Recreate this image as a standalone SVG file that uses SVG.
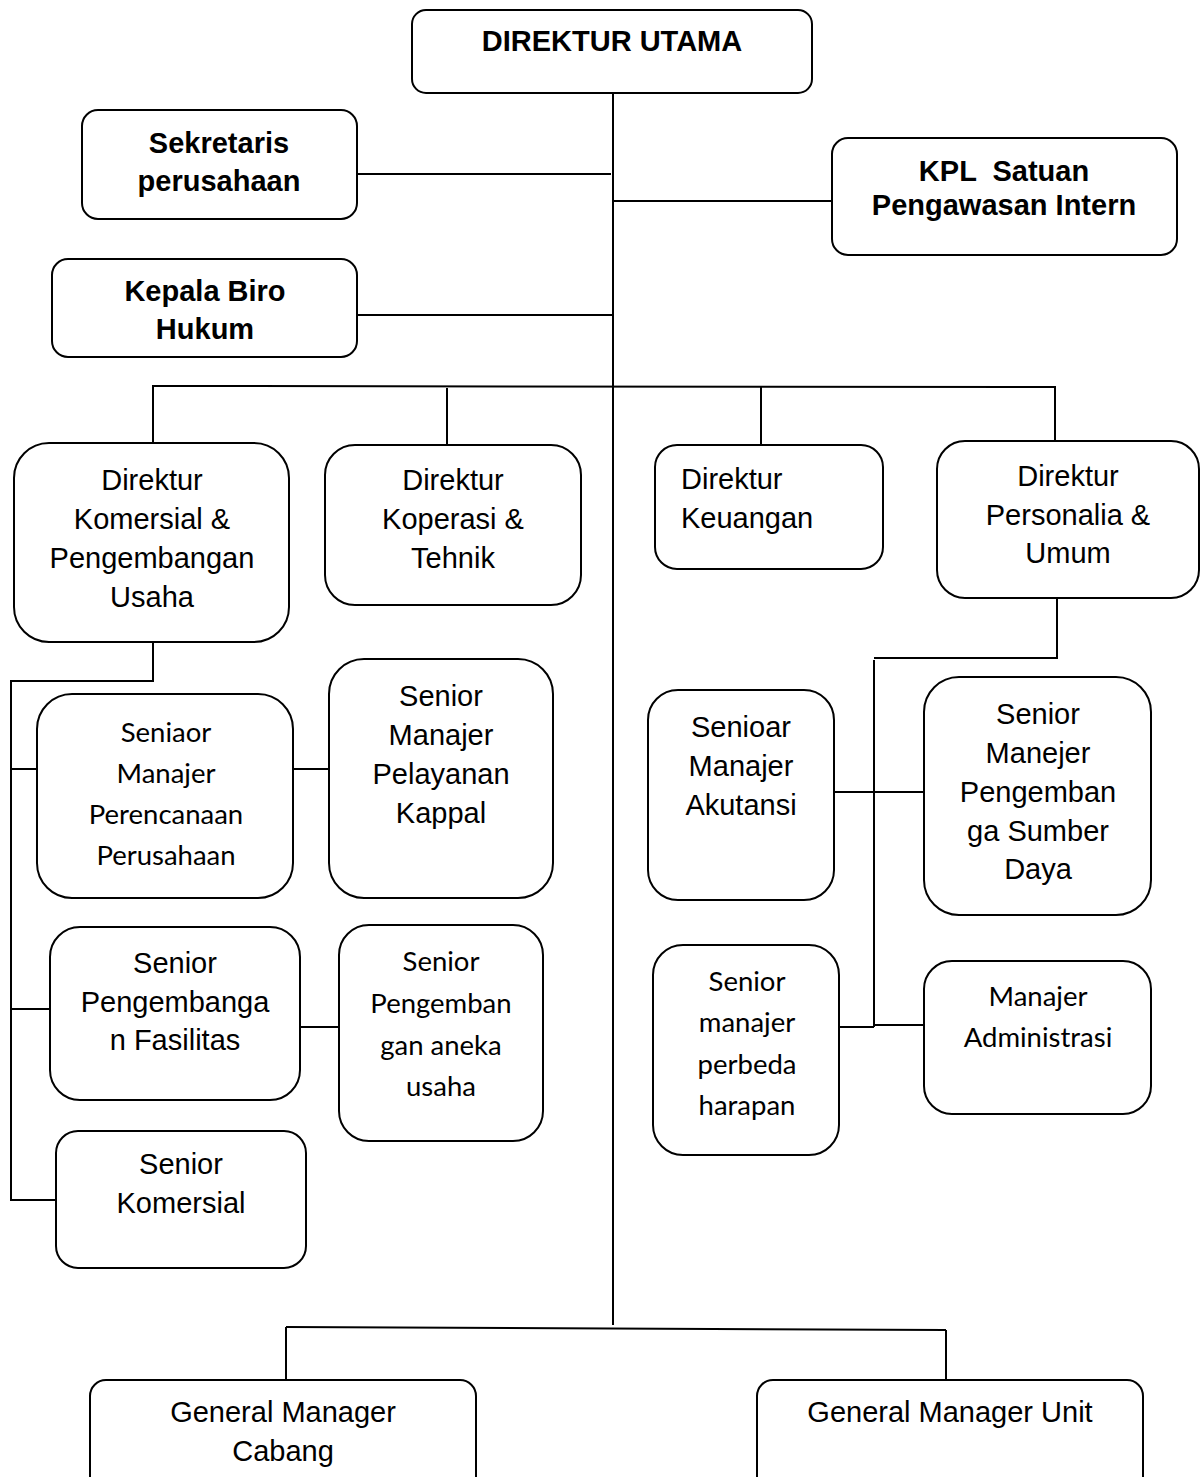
<svg xmlns="http://www.w3.org/2000/svg" width="1200" height="1477" viewBox="0 0 1200 1477">
<style>
.box{fill:#fff;stroke:#000;stroke-width:2}
.ln{stroke:#000;stroke-width:2;fill:none}
.b{font-family:"Liberation Sans",Arial,sans-serif;font-weight:bold;font-size:29px;text-anchor:middle;fill:#000}
.a{font-family:"Liberation Sans",Arial,sans-serif;font-size:29px;text-anchor:middle;fill:#000}
.c{font-family:Lato,"Open Sans",sans-serif;font-size:27.5px;text-anchor:middle;fill:#000}
.g{font-family:"Liberation Sans",Arial,sans-serif;font-size:29px;text-anchor:middle;fill:#000}
</style>
<rect width="1200" height="1477" fill="#fff"/>
<g id="connectors">
<line class="ln" x1="613" y1="93" x2="613" y2="1325"/>
<line class="ln" x1="357" y1="174" x2="611" y2="174"/>
<line class="ln" x1="613" y1="201" x2="832" y2="201"/>
<line class="ln" x1="357" y1="315" x2="613" y2="315"/>
<line class="ln" x1="152" y1="386" x2="1056" y2="387"/>
<line class="ln" x1="153" y1="386" x2="153" y2="443"/>
<line class="ln" x1="447" y1="388" x2="447" y2="445"/>
<line class="ln" x1="761" y1="387" x2="761" y2="445"/>
<line class="ln" x1="1055" y1="386" x2="1055" y2="441"/>
<polyline class="ln" points="153,642 153,681 11,681 11,1200 56,1200"/>
<line class="ln" x1="11" y1="769" x2="37" y2="769"/>
<line class="ln" x1="11" y1="1009" x2="50" y2="1009"/>
<line class="ln" x1="293" y1="769" x2="329" y2="769"/>
<line class="ln" x1="300" y1="1027" x2="339" y2="1027"/>
<polyline class="ln" points="1057,598 1057,658 874,658"/>
<line class="ln" x1="874" y1="660" x2="874" y2="1027"/>
<line class="ln" x1="834" y1="792" x2="924" y2="792"/>
<line class="ln" x1="839" y1="1027" x2="874" y2="1027"/>
<line class="ln" x1="874" y1="1025" x2="924" y2="1025"/>
<line class="ln" x1="286" y1="1327" x2="946" y2="1330"/>
<line class="ln" x1="286" y1="1327" x2="286" y2="1380"/>
<line class="ln" x1="946" y1="1330" x2="946" y2="1383"/>
</g>
<g id="direktur-utama">
<rect class="box" x="412" y="10" width="400" height="83" rx="14"/>
<text class="b" x="612" y="51">DIREKTUR UTAMA</text>
</g>
<g id="sekretaris">
<rect class="box" x="82" y="110" width="275" height="109" rx="16"/>
<text class="b" x="219" y="153">Sekretaris</text>
<text class="b" x="219" y="191">perusahaan</text>
</g>
<g id="kpl">
<rect class="box" x="832" y="138" width="345" height="117" rx="16"/>
<text class="b" x="1004" y="181" xml:space="preserve">KPL  Satuan</text>
<text class="b" x="1004" y="215">Pengawasan Intern</text>
</g>
<g id="biro-hukum">
<rect class="box" x="52" y="259" width="305" height="98" rx="16"/>
<text class="b" x="205" y="301">Kepala Biro</text>
<text class="b" x="205" y="339">Hukum</text>
</g>
<g id="dir-komersial">
<rect class="box" x="14" y="443" width="275" height="199" rx="35"/>
<text class="a" x="152" y="490">Direktur</text>
<text class="a" x="152" y="529">Komersial &amp;</text>
<text class="a" x="152" y="568">Pengembangan</text>
<text class="a" x="152" y="607">Usaha</text>
</g>
<g id="dir-koperasi">
<rect class="box" x="325" y="445" width="256" height="160" rx="30"/>
<text class="a" x="453" y="490">Direktur</text>
<text class="a" x="453" y="529">Koperasi &amp;</text>
<text class="a" x="453" y="568">Tehnik</text>
</g>
<g id="dir-keuangan">
<rect class="box" x="655" y="445" width="228" height="124" rx="22"/>
<text class="a" x="681" y="489" style="text-anchor:start">Direktur</text>
<text class="a" x="681" y="528" style="text-anchor:start">Keuangan</text>
</g>
<g id="dir-personalia">
<rect class="box" x="937" y="441" width="262" height="157" rx="28"/>
<text class="a" x="1068" y="486">Direktur</text>
<text class="a" x="1068" y="525">Personalia &amp;</text>
<text class="a" x="1068" y="563">Umum</text>
</g>
<g id="sm-perencanaan">
<rect class="box" x="37" y="694" width="256" height="204" rx="35"/>
<text class="c" x="166" y="742">Seniaor</text>
<text class="c" x="166" y="783">Manajer</text>
<text class="c" x="166" y="824">Perencanaan</text>
<text class="c" x="166" y="865">Perusahaan</text>
</g>
<g id="sm-pelayanan">
<rect class="box" x="329" y="659" width="224" height="239" rx="35"/>
<text class="a" x="441" y="706">Senior</text>
<text class="a" x="441" y="745">Manajer</text>
<text class="a" x="441" y="784">Pelayanan</text>
<text class="a" x="441" y="823">Kappal</text>
</g>
<g id="s-fasilitas">
<rect class="box" x="50" y="927" width="250" height="173" rx="30"/>
<text class="a" x="175" y="973">Senior</text>
<text class="a" x="175" y="1012">Pengembanga</text>
<text class="a" x="175" y="1050">n Fasilitas</text>
</g>
<g id="s-aneka">
<rect class="box" x="339" y="925" width="204" height="216" rx="30"/>
<text class="c" x="441" y="971">Senior</text>
<text class="c" x="441" y="1013">Pengemban</text>
<text class="c" x="441" y="1055">gan aneka</text>
<text class="c" x="441" y="1096">usaha</text>
</g>
<g id="s-komersial">
<rect class="box" x="56" y="1131" width="250" height="137" rx="22"/>
<text class="a" x="181" y="1174">Senior</text>
<text class="a" x="181" y="1213">Komersial</text>
</g>
<g id="sm-akutansi">
<rect class="box" x="648" y="690" width="186" height="210" rx="30"/>
<text class="a" x="741" y="737">Senioar</text>
<text class="a" x="741" y="776">Manajer</text>
<text class="a" x="741" y="815">Akutansi</text>
</g>
<g id="sm-sumber-daya">
<rect class="box" x="924" y="677" width="227" height="238" rx="35"/>
<text class="a" x="1038" y="724">Senior</text>
<text class="a" x="1038" y="763">Manejer</text>
<text class="a" x="1038" y="802">Pengemban</text>
<text class="a" x="1038" y="841">ga Sumber</text>
<text class="a" x="1038" y="879">Daya</text>
</g>
<g id="sm-perbeda">
<rect class="box" x="653" y="945" width="186" height="210" rx="30"/>
<text class="c" x="747" y="991">Senior</text>
<text class="c" x="747" y="1032">manajer</text>
<text class="c" x="747" y="1074">perbeda</text>
<text class="c" x="747" y="1115">harapan</text>
</g>
<g id="m-administrasi">
<rect class="box" x="924" y="961" width="227" height="153" rx="28"/>
<text class="c" x="1038" y="1006">Manajer</text>
<text class="c" x="1038" y="1047">Administrasi</text>
</g>
<g id="gm-cabang">
<rect class="box" x="90" y="1380" width="386" height="120" rx="16"/>
<text class="g" x="283" y="1422">General Manager</text>
<text class="g" x="283" y="1461">Cabang</text>
</g>
<g id="gm-unit">
<rect class="box" x="757" y="1380" width="386" height="120" rx="16"/>
<text class="g" x="950" y="1422">General Manager Unit</text>
</g>
</svg>
